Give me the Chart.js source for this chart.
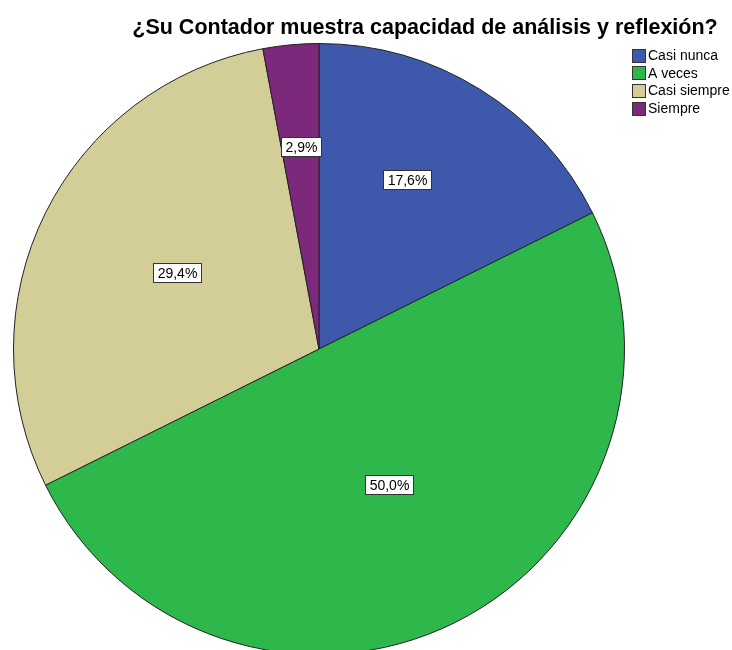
<!DOCTYPE html>
<html>
<head>
<meta charset="utf-8">
<script src="https://cdn.jsdelivr.net/npm/chart.js@4/dist/chart.umd.min.js"></script>
<style>
  html, body { margin: 0; padding: 0; background: #fff; overflow: hidden; }
  #wrap { width: 732px; height: 650px; overflow: hidden; }
</style>
</head>
<body>
<div id="wrap"><canvas id="pie" width="732" height="680"></canvas></div>
<script>
// datos
const titulo = '¿Su Contador muestra capacidad de análisis y reflexión?';
const categorias = ['Casi nunca', 'A veces', 'Casi siempre', 'Siempre'];
const frecuencias = [6, 17, 10, 1];
const porcentajes = ['17,6%', '50,0%', '29,4%', '2,9%'];
const colores = ['#3e58ab', '#2eb84b', '#d3cd98', '#7c287b'];

// posicion de la etiqueta: fraccion del radio y desvio del angulo (grados)
const posEtiqueta = [0.624, 0.498, 0.527, 0.664];
const giroEtiqueta = [-4.3, -0.9, 1.7, 0.2];

const FUENTE = '"Liberation Sans", Arial, sans-serif';

// dibuja titulo, leyenda y etiquetas
const extras = {
  id: 'extras',
  afterDatasetsDraw(chart) {
    const ctx = chart.ctx;
    const meta = chart.getDatasetMeta(0);
    ctx.save();

    // etiquetas de porcentaje
    ctx.font = '14px ' + FUENTE;
    ctx.textAlign = 'center';
    ctx.textBaseline = 'middle';
    meta.data.forEach((arc, i) => {
      const ang = (arc.startAngle + arc.endAngle) / 2 + giroEtiqueta[i] * Math.PI / 180;
      const r = arc.outerRadius * posEtiqueta[i];
      const x = arc.x + Math.cos(ang) * r;
      const y = arc.y + Math.sin(ang) * r;
      const w = Math.round(ctx.measureText(porcentajes[i]).width + 8);
      const h = 19;
      const bx = Math.round(x - w / 2) + 0.5;
      const by = Math.round(y - h / 2) + 0.5;
      ctx.fillStyle = '#fff';
      ctx.fillRect(bx, by, w, h);
      ctx.strokeStyle = '#333';
      ctx.lineWidth = 1;
      ctx.strokeRect(bx, by, w, h);
      ctx.fillStyle = '#000';
      ctx.fillText(porcentajes[i], bx + w / 2, by + h / 2 + 1);
    });

    // titulo
    ctx.font = 'bold 21.5px ' + FUENTE;
    ctx.fillStyle = '#000';
    ctx.textAlign = 'center';
    ctx.textBaseline = 'alphabetic';
    ctx.fillText(titulo, 425, 34);

    // leyenda
    ctx.font = '14px ' + FUENTE;
    ctx.textAlign = 'left';
    ctx.textBaseline = 'middle';
    categorias.forEach((c, i) => {
      const y = 55 + i * 17.7;
      const by = Math.round(y - 6.5) + 0.5;
      ctx.fillStyle = colores[i];
      ctx.fillRect(632.5, by, 13, 13);
      ctx.strokeStyle = '#333';
      ctx.strokeRect(632.5, by, 13, 13);
      ctx.fillStyle = '#000';
      ctx.fillText(c, 648, y + 1);
    });
    ctx.restore();
  }
};

new Chart(document.getElementById('pie'), {
  type: 'pie',
  data: {
    labels: categorias,
    datasets: [{
      data: frecuencias,
      backgroundColor: colores,
      borderColor: '#222',
      borderWidth: 1
    }]
  },
  options: {
    responsive: false,
    animation: false,
    layout: { padding: { left: 13, right: 107, top: 43, bottom: 25 } },
    plugins: {
      legend: { display: false },
      title: { display: false },
      tooltip: { enabled: false }
    }
  },
  plugins: [extras]
});
</script>
</body>
</html>
